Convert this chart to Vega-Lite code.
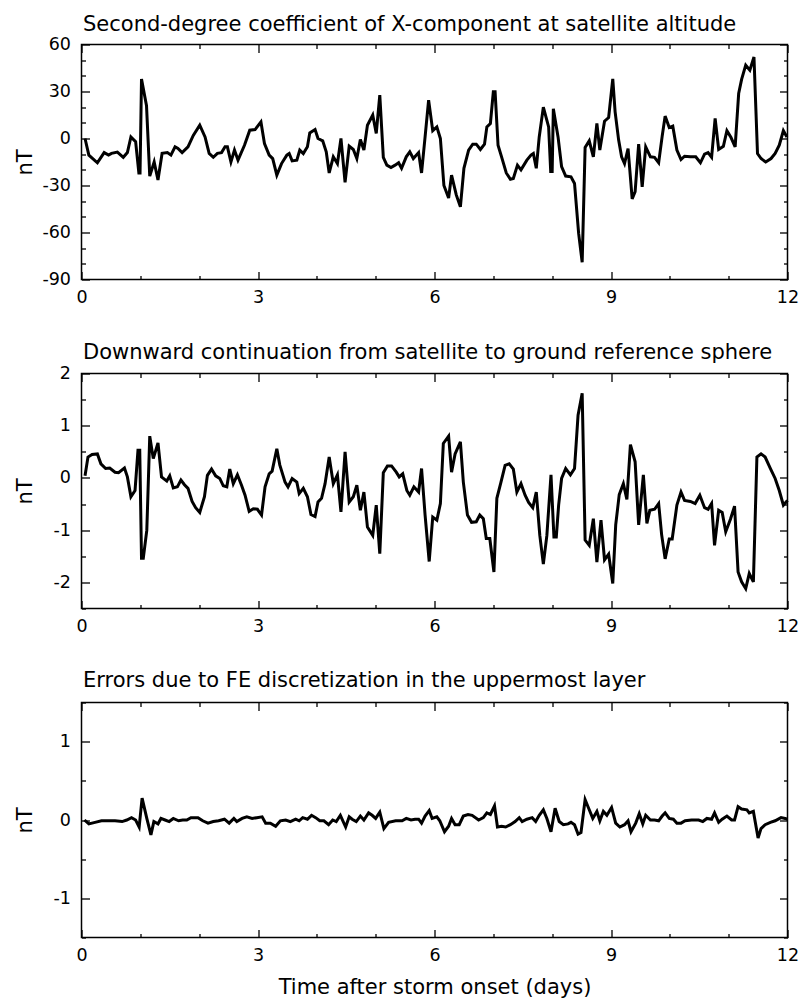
{
  "$schema": "https://vega.github.io/schema/vega-lite/v6.json",
  "padding": {"left": 13.5, "top": 12.5, "right": 5, "bottom": 5},
  "background": "white",
  "datasets": {
    "p1": [
      {"t":0.06,"v":0},{"t":0.125,"v":-10.6},{"t":0.27,"v":-15.5},{"t":0.385,"v":-9},{"t":0.46,"v":-10.6},{"t":0.51,"v":-9.5},{"t":0.61,"v":-8.7},{"t":0.71,"v":-12},{"t":0.78,"v":-9},{"t":0.84,"v":1},{"t":0.92,"v":-2},{"t":0.975,"v":-22},{"t":0.995,"v":-22},{"t":1.02,"v":38},{"t":1.105,"v":21},{"t":1.16,"v":-24},{"t":1.235,"v":-15},{"t":1.3,"v":-26.5},{"t":1.37,"v":-9.5},{"t":1.46,"v":-9},{"t":1.52,"v":-10.6},{"t":1.59,"v":-5.3},{"t":1.64,"v":-6.4},{"t":1.71,"v":-9},{"t":1.81,"v":-5.3},{"t":1.9,"v":2},{"t":2.01,"v":8.5},{"t":2.1,"v":1},{"t":2.17,"v":-9.5},{"t":2.24,"v":-12},{"t":2.31,"v":-9.5},{"t":2.38,"v":-9},{"t":2.44,"v":-5.3},{"t":2.48,"v":-5.3},{"t":2.54,"v":-15},{"t":2.6,"v":-7.4},{"t":2.66,"v":-13.8},{"t":2.77,"v":-4.3},{"t":2.86,"v":5.3},{"t":2.95,"v":5.7},{"t":3.05,"v":10.6},{"t":3.11,"v":-3.2},{"t":3.19,"v":-10.6},{"t":3.25,"v":-12.8},{"t":3.32,"v":-23.4},{"t":3.4,"v":-16},{"t":3.49,"v":-10.6},{"t":3.53,"v":-9.6},{"t":3.58,"v":-14.3},{"t":3.66,"v":-13.8},{"t":3.71,"v":-7.4},{"t":3.77,"v":-9.6},{"t":3.84,"v":-5.3},{"t":3.88,"v":3.6},{"t":3.97,"v":5.7},{"t":4.02,"v":0},{"t":4.1,"v":-1.5},{"t":4.16,"v":-8.5},{"t":4.21,"v":-22},{"t":4.28,"v":-11.7},{"t":4.35,"v":-16},{"t":4.41,"v":0},{"t":4.48,"v":-28},{"t":4.55,"v":-4.9},{"t":4.62,"v":-7},{"t":4.68,"v":-12.8},{"t":4.74,"v":-0.6},{"t":4.8,"v":-7.4},{"t":4.86,"v":8.5},{"t":4.95,"v":15},{"t":5.01,"v":3.2},{"t":5.07,"v":27.7},{"t":5.13,"v":-12},{"t":5.19,"v":-17},{"t":5.26,"v":-18.5},{"t":5.33,"v":-17},{"t":5.39,"v":-15.5},{"t":5.44,"v":-19},{"t":5.52,"v":-11.7},{"t":5.58,"v":-8.5},{"t":5.64,"v":-12.8},{"t":5.73,"v":-9},{"t":5.78,"v":-22},{"t":5.84,"v":1},{"t":5.9,"v":24.5},{"t":5.97,"v":5},{"t":6.04,"v":7.4},{"t":6.1,"v":0},{"t":6.16,"v":-30},{"t":6.24,"v":-38},{"t":6.29,"v":-23.4},{"t":6.37,"v":-36},{"t":6.44,"v":-43.6},{"t":6.5,"v":-19},{"t":6.58,"v":-7.4},{"t":6.65,"v":-3.6},{"t":6.71,"v":-3.6},{"t":6.78,"v":-7},{"t":6.85,"v":-3.6},{"t":6.89,"v":7.4},{"t":6.95,"v":9.6},{"t":7.0,"v":29.8},{"t":7.03,"v":29.8},{"t":7.08,"v":-4.3},{"t":7.14,"v":-11.7},{"t":7.22,"v":-22},{"t":7.29,"v":-26},{"t":7.34,"v":-25.5},{"t":7.41,"v":-17},{"t":7.47,"v":-20},{"t":7.57,"v":-13.8},{"t":7.64,"v":-10.6},{"t":7.68,"v":-9.6},{"t":7.73,"v":-19},{"t":7.78,"v":1},{"t":7.85,"v":20},{"t":7.94,"v":7.4},{"t":7.975,"v":-21},{"t":8.0,"v":-21},{"t":8.02,"v":19},{"t":8.1,"v":1},{"t":8.16,"v":-18},{"t":8.23,"v":-24},{"t":8.32,"v":-24.5},{"t":8.38,"v":-28.7},{"t":8.45,"v":-60.6},{"t":8.51,"v":-79},{"t":8.56,"v":-5.7},{"t":8.63,"v":-1.5},{"t":8.7,"v":-11.7},{"t":8.76,"v":9.6},{"t":8.81,"v":-7.4},{"t":8.89,"v":11},{"t":8.96,"v":13.4},{"t":9.03,"v":38},{"t":9.07,"v":17},{"t":9.13,"v":-1},{"t":9.18,"v":-11.7},{"t":9.23,"v":-16},{"t":9.29,"v":-6.4},{"t":9.36,"v":-38.5},{"t":9.41,"v":-34},{"t":9.47,"v":-3.6},{"t":9.53,"v":-30.9},{"t":9.59,"v":-5.3},{"t":9.67,"v":-11.7},{"t":9.74,"v":-12},{"t":9.81,"v":-15.5},{"t":9.87,"v":1.5},{"t":9.92,"v":14.3},{"t":9.99,"v":7},{"t":10.05,"v":7.9},{"t":10.12,"v":-7.4},{"t":10.19,"v":-13.4},{"t":10.25,"v":-11.3},{"t":10.35,"v":-11.7},{"t":10.44,"v":-11.7},{"t":10.52,"v":-15.5},{"t":10.59,"v":-10},{"t":10.65,"v":-9},{"t":10.71,"v":-12},{"t":10.77,"v":12.8},{"t":10.83,"v":-7},{"t":10.91,"v":-5},{"t":10.97,"v":5},{"t":11.04,"v":0.6},{"t":11.11,"v":-5.3},{"t":11.17,"v":28.7},{"t":11.22,"v":37.7},{"t":11.29,"v":46.8},{"t":11.36,"v":43.6},{"t":11.43,"v":52},{"t":11.49,"v":-9.6},{"t":11.55,"v":-12.8},{"t":11.63,"v":-15},{"t":11.72,"v":-12.8},{"t":11.79,"v":-9.6},{"t":11.86,"v":-4.3},{"t":11.93,"v":5},{"t":11.99,"v":1}
    ],
    "p2": [
      {"t":0.06,"v":0.04},{"t":0.11,"v":0.4},{"t":0.18,"v":0.45},{"t":0.27,"v":0.46},{"t":0.33,"v":0.27},{"t":0.41,"v":0.18},{"t":0.48,"v":0.19},{"t":0.57,"v":0.11},{"t":0.63,"v":0.1},{"t":0.73,"v":0.19},{"t":0.78,"v":0.02},{"t":0.84,"v":-0.36},{"t":0.91,"v":-0.24},{"t":0.96,"v":0.53},{"t":0.99,"v":0.53},{"t":1.02,"v":-1.54},{"t":1.05,"v":-1.54},{"t":1.11,"v":-1.0},{"t":1.16,"v":0.8},{"t":1.22,"v":0.37},{"t":1.3,"v":0.67},{"t":1.36,"v":0.02},{"t":1.45,"v":-0.06},{"t":1.5,"v":0.04},{"t":1.56,"v":-0.19},{"t":1.63,"v":-0.17},{"t":1.69,"v":-0.04},{"t":1.75,"v":-0.13},{"t":1.81,"v":-0.2},{"t":1.88,"v":-0.45},{"t":1.94,"v":-0.57},{"t":2.01,"v":-0.66},{"t":2.09,"v":-0.36},{"t":2.14,"v":0.05},{"t":2.21,"v":0.17},{"t":2.28,"v":0.04},{"t":2.35,"v":-0.01},{"t":2.41,"v":-0.15},{"t":2.47,"v":-0.17},{"t":2.52,"v":0.17},{"t":2.58,"v":-0.11},{"t":2.65,"v":0.06},{"t":2.72,"v":-0.14},{"t":2.78,"v":-0.33},{"t":2.85,"v":-0.64},{"t":2.92,"v":-0.59},{"t":2.99,"v":-0.6},{"t":3.06,"v":-0.71},{"t":3.12,"v":-0.17},{"t":3.19,"v":0.08},{"t":3.24,"v":0.13},{"t":3.32,"v":0.56},{"t":3.37,"v":0.25},{"t":3.46,"v":-0.08},{"t":3.51,"v":-0.17},{"t":3.58,"v":-0.01},{"t":3.66,"v":-0.08},{"t":3.7,"v":-0.3},{"t":3.77,"v":-0.2},{"t":3.84,"v":-0.36},{"t":3.9,"v":-0.7},{"t":3.97,"v":-0.74},{"t":4.02,"v":-0.46},{"t":4.08,"v":-0.39},{"t":4.14,"v":-0.11},{"t":4.21,"v":0.4},{"t":4.28,"v":-0.11},{"t":4.35,"v":0.06},{"t":4.41,"v":-0.65},{"t":4.48,"v":0.5},{"t":4.55,"v":-0.46},{"t":4.62,"v":-0.36},{"t":4.68,"v":-0.14},{"t":4.74,"v":-0.62},{"t":4.8,"v":-0.27},{"t":4.86,"v":-0.94},{"t":4.95,"v":-1.1},{"t":5.01,"v":-0.52},{"t":5.07,"v":-1.45},{"t":5.13,"v":0.1},{"t":5.2,"v":0.23},{"t":5.27,"v":0.23},{"t":5.35,"v":0.11},{"t":5.4,"v":0.02},{"t":5.46,"v":0.08},{"t":5.53,"v":-0.24},{"t":5.58,"v":-0.33},{"t":5.65,"v":-0.17},{"t":5.73,"v":-0.27},{"t":5.78,"v":0.18},{"t":5.84,"v":-0.71},{"t":5.91,"v":-1.6},{"t":5.97,"v":-0.75},{"t":6.04,"v":-0.81},{"t":6.1,"v":-0.49},{"t":6.15,"v":0.66},{"t":6.24,"v":0.8},{"t":6.29,"v":0.11},{"t":6.35,"v":0.46},{"t":6.44,"v":0.69},{"t":6.49,"v":-0.08},{"t":6.56,"v":-0.71},{"t":6.63,"v":-0.85},{"t":6.71,"v":-0.84},{"t":6.77,"v":-0.71},{"t":6.83,"v":-0.78},{"t":6.88,"v":-1.16},{"t":6.94,"v":-1.16},{"t":7.01,"v":-1.8},{"t":7.06,"v":-0.39},{"t":7.13,"v":-0.08},{"t":7.2,"v":0.24},{"t":7.27,"v":0.27},{"t":7.34,"v":0.17},{"t":7.4,"v":-0.27},{"t":7.47,"v":-0.11},{"t":7.54,"v":-0.33},{"t":7.6,"v":-0.47},{"t":7.67,"v":-0.57},{"t":7.73,"v":-0.27},{"t":7.79,"v":-1.1},{"t":7.85,"v":-1.65},{"t":7.91,"v":-1.1},{"t":7.98,"v":0.06},{"t":8.03,"v":-1.13},{"t":8.07,"v":-1.13},{"t":8.11,"v":-0.52},{"t":8.16,"v":-0.01},{"t":8.23,"v":0.18},{"t":8.31,"v":0.06},{"t":8.38,"v":0.18},{"t":8.44,"v":1.2},{"t":8.51,"v":1.62},{"t":8.56,"v":-1.19},{"t":8.63,"v":-1.29},{"t":8.7,"v":-0.78},{"t":8.76,"v":-1.61},{"t":8.83,"v":-0.81},{"t":8.89,"v":-1.57},{"t":8.96,"v":-1.46},{"t":9.03,"v":-2.02},{"t":9.08,"v":-0.9},{"t":9.14,"v":-0.32},{"t":9.21,"v":-0.11},{"t":9.27,"v":-0.41},{"t":9.33,"v":0.64},{"t":9.41,"v":0.31},{"t":9.47,"v":-0.9},{"t":9.55,"v":0.06},{"t":9.61,"v":-0.87},{"t":9.66,"v":-0.62},{"t":9.74,"v":-0.6},{"t":9.81,"v":-0.49},{"t":9.86,"v":-1.08},{"t":9.92,"v":-1.55},{"t":9.99,"v":-1.17},{"t":10.04,"v":-1.17},{"t":10.12,"v":-0.52},{"t":10.19,"v":-0.27},{"t":10.25,"v":-0.43},{"t":10.35,"v":-0.45},{"t":10.43,"v":-0.49},{"t":10.51,"v":-0.33},{"t":10.59,"v":-0.57},{"t":10.65,"v":-0.6},{"t":10.71,"v":-0.49},{"t":10.76,"v":-1.29},{"t":10.83,"v":-0.62},{"t":10.89,"v":-0.66},{"t":10.95,"v":-1.03},{"t":11.03,"v":-0.79},{"t":11.1,"v":-0.54},{"t":11.16,"v":-1.8},{"t":11.22,"v":-1.99},{"t":11.29,"v":-2.12},{"t":11.35,"v":-1.83},{"t":11.42,"v":-1.99},{"t":11.48,"v":0.4},{"t":11.55,"v":0.46},{"t":11.62,"v":0.4},{"t":11.71,"v":0.18},{"t":11.79,"v":-0.01},{"t":11.86,"v":-0.24},{"t":11.93,"v":-0.52},{"t":12.0,"v":-0.43}
    ],
    "p3": [
      {"t":0.05,"v":0},{"t":0.125,"v":-0.05},{"t":0.23,"v":-0.03},{"t":0.34,"v":-0.01},{"t":0.45,"v":-0.01},{"t":0.57,"v":-0.01},{"t":0.69,"v":-0.02},{"t":0.77,"v":0},{"t":0.85,"v":0.03},{"t":0.92,"v":0},{"t":0.98,"v":-0.09},{"t":1.03,"v":0.28},{"t":1.11,"v":0.02},{"t":1.18,"v":-0.19},{"t":1.23,"v":-0.02},{"t":1.3,"v":-0.05},{"t":1.35,"v":0.02},{"t":1.42,"v":0},{"t":1.49,"v":-0.02},{"t":1.56,"v":0.02},{"t":1.65,"v":-0.01},{"t":1.72,"v":0},{"t":1.79,"v":0},{"t":1.86,"v":0.03},{"t":1.98,"v":0.03},{"t":2.06,"v":-0.01},{"t":2.15,"v":-0.04},{"t":2.24,"v":-0.02},{"t":2.33,"v":-0.01},{"t":2.43,"v":0.01},{"t":2.51,"v":-0.04},{"t":2.59,"v":0.02},{"t":2.64,"v":-0.02},{"t":2.73,"v":0.02},{"t":2.81,"v":0.04},{"t":2.9,"v":0.02},{"t":2.98,"v":0.03},{"t":3.07,"v":0.04},{"t":3.13,"v":-0.04},{"t":3.21,"v":-0.04},{"t":3.3,"v":-0.08},{"t":3.38,"v":-0.01},{"t":3.47,"v":0},{"t":3.55,"v":-0.02},{"t":3.64,"v":0.01},{"t":3.7,"v":-0.01},{"t":3.76,"v":0.03},{"t":3.84,"v":0.01},{"t":3.91,"v":0.06},{"t":3.98,"v":0.03},{"t":4.05,"v":-0.01},{"t":4.12,"v":-0.01},{"t":4.2,"v":-0.06},{"t":4.27,"v":0},{"t":4.33,"v":-0.02},{"t":4.4,"v":0.06},{"t":4.49,"v":-0.09},{"t":4.55,"v":0.04},{"t":4.6,"v":0.01},{"t":4.67,"v":-0.02},{"t":4.74,"v":0.05},{"t":4.8,"v":0},{"t":4.88,"v":0.09},{"t":4.94,"v":0.06},{"t":5.0,"v":0.02},{"t":5.07,"v":0.1},{"t":5.14,"v":-0.11},{"t":5.22,"v":-0.03},{"t":5.34,"v":-0.01},{"t":5.45,"v":-0.01},{"t":5.52,"v":0.02},{"t":5.6,"v":0},{"t":5.67,"v":0.01},{"t":5.73,"v":0.01},{"t":5.78,"v":-0.04},{"t":5.84,"v":0.05},{"t":5.91,"v":0.12},{"t":5.96,"v":0.02},{"t":6.04,"v":0.04},{"t":6.09,"v":-0.01},{"t":6.17,"v":-0.15},{"t":6.24,"v":-0.08},{"t":6.29,"v":0.02},{"t":6.35,"v":-0.06},{"t":6.42,"v":-0.06},{"t":6.49,"v":0.05},{"t":6.57,"v":0.07},{"t":6.64,"v":0.06},{"t":6.75,"v":0},{"t":6.83,"v":0.03},{"t":6.89,"v":0.09},{"t":6.95,"v":0.07},{"t":7.02,"v":0.18},{"t":7.07,"v":-0.09},{"t":7.14,"v":-0.08},{"t":7.21,"v":-0.09},{"t":7.29,"v":-0.06},{"t":7.37,"v":-0.02},{"t":7.44,"v":0.03},{"t":7.49,"v":-0.02},{"t":7.57,"v":0.01},{"t":7.66,"v":0.03},{"t":7.72,"v":-0.02},{"t":7.78,"v":0.06},{"t":7.85,"v":0.13},{"t":7.91,"v":0.02},{"t":7.98,"v":-0.15},{"t":8.05,"v":0.15},{"t":8.12,"v":-0.02},{"t":8.19,"v":-0.06},{"t":8.27,"v":-0.05},{"t":8.32,"v":-0.03},{"t":8.38,"v":-0.06},{"t":8.44,"v":-0.18},{"t":8.49,"v":-0.16},{"t":8.56,"v":0.26},{"t":8.62,"v":0.15},{"t":8.69,"v":0.02},{"t":8.76,"v":0.11},{"t":8.81,"v":-0.01},{"t":8.87,"v":0.11},{"t":8.93,"v":0.06},{"t":9.01,"v":0.16},{"t":9.08,"v":-0.04},{"t":9.15,"v":-0.09},{"t":9.23,"v":-0.06},{"t":9.29,"v":-0.01},{"t":9.34,"v":-0.15},{"t":9.42,"v":-0.04},{"t":9.48,"v":0.08},{"t":9.54,"v":-0.05},{"t":9.59,"v":0.06},{"t":9.67,"v":0},{"t":9.74,"v":0},{"t":9.81,"v":-0.01},{"t":9.87,"v":0.05},{"t":9.92,"v":0.09},{"t":9.99,"v":0.02},{"t":10.06,"v":0.01},{"t":10.12,"v":-0.04},{"t":10.19,"v":-0.04},{"t":10.26,"v":-0.01},{"t":10.37,"v":0},{"t":10.49,"v":0},{"t":10.56,"v":-0.02},{"t":10.63,"v":0.02},{"t":10.71,"v":0.01},{"t":10.76,"v":0.09},{"t":10.83,"v":-0.03},{"t":10.89,"v":0.01},{"t":10.97,"v":0.05},{"t":11.05,"v":0},{"t":11.1,"v":0},{"t":11.16,"v":0.17},{"t":11.22,"v":0.14},{"t":11.31,"v":0.13},{"t":11.35,"v":0.09},{"t":11.42,"v":0.11},{"t":11.5,"v":-0.23},{"t":11.55,"v":-0.11},{"t":11.62,"v":-0.06},{"t":11.71,"v":-0.03},{"t":11.79,"v":-0.01},{"t":11.89,"v":0.03},{"t":11.96,"v":0.02},{"t":12.0,"v":0.01}
    ]
  },
  "vconcat": [
    {
      "width": 706, "height": 235,
      "data": {"name": "p1"},
      "layer": [
        {"mark": {"type": "line", "color": "black", "strokeWidth": 3, "strokeJoin": "miter"},
         "encoding": {
           "x": {"field": "t", "type": "quantitative", "scale": {"domain": [0, 12], "nice": false}, "axis": {"orient": "bottom", "values": [0, 3, 6, 9, 12], "tickSize": -8, "labelPadding": 17, "labelExpr": "'' + datum.value", "title": null}},
           "y": {"field": "v", "type": "quantitative", "scale": {"domain": [-90, 60], "nice": false, "zero": false}, "axis": {"orient": "left", "values": [-90, -60, -30, 0, 30, 60], "tickSize": -8, "labelPadding": 19, "labelExpr": "'' + datum.value", "title": "nT", "titleX": -50, "titleBaseline": "alphabetic"}}
         }},
        {"mark": {"type": "line", "strokeOpacity": 0},
         "encoding": {
           "x": {"field": "t", "type": "quantitative", "axis": {"orient": "bottom", "values": [1, 2, 4, 5, 7, 8, 10, 11], "tickSize": -4, "labels": false, "title": null}},
           "y": {"field": "v", "type": "quantitative", "axis": {"orient": "left", "values": [-80, -70, -50, -40, -20, -10, 10, 20, 40, 50], "tickSize": -4, "labels": false, "title": null}}
         }},
        {"mark": {"type": "line", "strokeOpacity": 0},
         "encoding": {
           "x": {"field": "t", "type": "quantitative", "axis": {"orient": "top", "values": [0, 3, 6, 9, 12], "tickSize": -8, "labels": false, "title": "Second-degree coefficient of X-component at satellite altitude", "titleX": 1, "titleY": -14, "titleAlign": "left", "titleAngle": 0, "titleBaseline": "alphabetic"}},
           "y": {"field": "v", "type": "quantitative", "axis": {"orient": "right", "values": [-90, -60, -30, 0, 30, 60], "tickSize": -8, "labels": false, "title": null}}
         }},
        {"mark": {"type": "line", "strokeOpacity": 0},
         "encoding": {
           "x": {"field": "t", "type": "quantitative", "axis": {"orient": "top", "values": [1, 2, 4, 5, 7, 8, 10, 11], "tickSize": -4, "labels": false, "title": null}},
           "y": {"field": "v", "type": "quantitative", "axis": {"orient": "right", "values": [-80, -70, -50, -40, -20, -10, 10, 20, 40, 50], "tickSize": -4, "labels": false, "title": null}}
         }}
      ],
      "resolve": {"axis": {"x": "independent", "y": "independent"}}
    },
    {
      "width": 706, "height": 235,
      "data": {"name": "p2"},
      "layer": [
        {"mark": {"type": "line", "color": "black", "strokeWidth": 3, "strokeJoin": "miter"},
         "encoding": {
           "x": {"field": "t", "type": "quantitative", "scale": {"domain": [0, 12], "nice": false}, "axis": {"orient": "bottom", "values": [0, 3, 6, 9, 12], "tickSize": -8, "labelPadding": 17, "labelExpr": "'' + datum.value", "title": null}},
           "y": {"field": "v", "type": "quantitative", "scale": {"domain": [-2.5, 2], "nice": false, "zero": false}, "axis": {"orient": "left", "values": [-2, -1, 0, 1, 2], "tickSize": -8, "labelPadding": 19, "labelExpr": "'' + datum.value", "title": "nT", "titleX": -50, "titleBaseline": "alphabetic"}}
         }},
        {"mark": {"type": "line", "strokeOpacity": 0},
         "encoding": {
           "x": {"field": "t", "type": "quantitative", "axis": {"orient": "bottom", "values": [1, 2, 4, 5, 7, 8, 10, 11], "tickSize": -4, "labels": false, "title": null}},
           "y": {"field": "v", "type": "quantitative", "axis": {"orient": "left", "values": [-2.5, -1.5, -0.5, 0.5, 1.5], "tickSize": -4, "labels": false, "title": null}}
         }},
        {"mark": {"type": "line", "strokeOpacity": 0},
         "encoding": {
           "x": {"field": "t", "type": "quantitative", "axis": {"orient": "top", "values": [0, 3, 6, 9, 12], "tickSize": -8, "labels": false, "title": "Downward continuation from satellite to ground reference sphere", "titleX": 1, "titleY": -15, "titleAlign": "left", "titleAngle": 0, "titleBaseline": "alphabetic"}},
           "y": {"field": "v", "type": "quantitative", "axis": {"orient": "right", "values": [-2, -1, 0, 1, 2], "tickSize": -8, "labels": false, "title": null}}
         }},
        {"mark": {"type": "line", "strokeOpacity": 0},
         "encoding": {
           "x": {"field": "t", "type": "quantitative", "axis": {"orient": "top", "values": [1, 2, 4, 5, 7, 8, 10, 11], "tickSize": -4, "labels": false, "title": null}},
           "y": {"field": "v", "type": "quantitative", "axis": {"orient": "right", "values": [-2.5, -1.5, -0.5, 0.5, 1.5], "tickSize": -4, "labels": false, "title": null}}
         }}
      ],
      "resolve": {"axis": {"x": "independent", "y": "independent"}}
    },
    {
      "width": 706, "height": 235,
      "data": {"name": "p3"},
      "layer": [
        {"mark": {"type": "line", "color": "black", "strokeWidth": 3, "strokeJoin": "miter"},
         "encoding": {
           "x": {"field": "t", "type": "quantitative", "scale": {"domain": [0, 12], "nice": false}, "axis": {"orient": "bottom", "values": [0, 3, 6, 9, 12], "tickSize": -8, "labelPadding": 17, "labelExpr": "'' + datum.value", "title": "Time after storm onset (days)", "titleY": 56, "titleBaseline": "alphabetic"}},
           "y": {"field": "v", "type": "quantitative", "scale": {"domain": [-1.5, 1.5], "nice": false, "zero": false}, "axis": {"orient": "left", "values": [-1, 0, 1], "tickSize": -8, "labelPadding": 19, "labelExpr": "'' + datum.value", "title": "nT", "titleX": -50, "titleBaseline": "alphabetic"}}
         }},
        {"mark": {"type": "line", "strokeOpacity": 0},
         "encoding": {
           "x": {"field": "t", "type": "quantitative", "axis": {"orient": "bottom", "values": [1, 2, 4, 5, 7, 8, 10, 11], "tickSize": -4, "labels": false, "title": null}},
           "y": {"field": "v", "type": "quantitative", "axis": {"orient": "left", "values": [-1.5, -0.5, 0.5, 1.5], "tickSize": -4, "labels": false, "title": null}}
         }},
        {"mark": {"type": "line", "strokeOpacity": 0},
         "encoding": {
           "x": {"field": "t", "type": "quantitative", "axis": {"orient": "top", "values": [0, 3, 6, 9, 12], "tickSize": -8, "labels": false, "title": "Errors due to FE discretization in the uppermost layer", "titleX": 1, "titleY": -16, "titleAlign": "left", "titleAngle": 0, "titleBaseline": "alphabetic"}},
           "y": {"field": "v", "type": "quantitative", "axis": {"orient": "right", "values": [-1, 0, 1], "tickSize": -8, "labels": false, "title": null}}
         }},
        {"mark": {"type": "line", "strokeOpacity": 0},
         "encoding": {
           "x": {"field": "t", "type": "quantitative", "axis": {"orient": "top", "values": [1, 2, 4, 5, 7, 8, 10, 11], "tickSize": -4, "labels": false, "title": null}},
           "y": {"field": "v", "type": "quantitative", "axis": {"orient": "right", "values": [-1.5, -0.5, 0.5, 1.5], "tickSize": -4, "labels": false, "title": null}}
         }}
      ],
      "resolve": {"axis": {"x": "independent", "y": "independent"}}
    }
  ],
  "spacing": 94,
  "bounds": "flush",
  "config": {
    "view": {"stroke": "black", "strokeWidth": 1.5},
    "axis": {"domain": false, "grid": false, "minExtent": 0, "tickColor": "black", "tickWidth": 1.3, "labelColor": "black", "labelFont": "DejaVu Sans", "labelFontSize": 17.5, "labelFlush": false, "labelOverlap": false, "labelBound": false, "titleFont": "DejaVu Sans", "titleFontSize": 21, "titleFontWeight": "normal", "titleColor": "black"}
  }
}
